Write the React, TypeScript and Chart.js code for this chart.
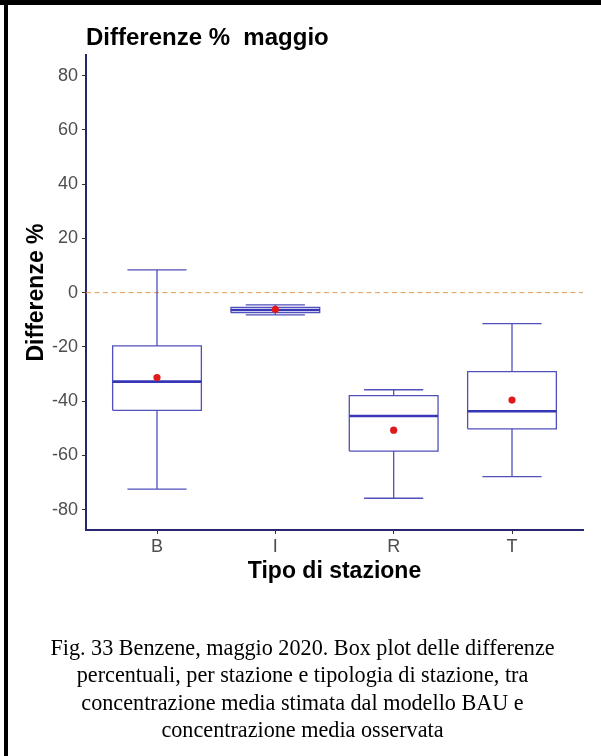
import React, { useEffect, useRef } from "react";
import { Chart, registerables } from "chart.js";

Chart.register(...registerables);

// ---- data ----
const categories = ["B", "I", "R", "T"];
const whiskerLow = [-72.4, -8.2, -75.8, -67.8];
const q1 = [-43.4, -7.4, -58.4, -50.2];
const median = [-32.8, -6.4, -45.5, -43.7];
const q3 = [-19.6, -5.4, -38.0, -29.1];
const whiskerHigh = [8.4, -4.5, -35.8, -11.4];
const means = [-31.3, -6.2, -50.7, -39.6];
const yTicks = [-80, -60, -40, -20, 0, 20, 40, 60, 80];
const refValue = 0;

const titleText = "Differenze %  maggio";
const yTitle = "Differenze %";
const xTitle = "Tipo di stazione";
const captionLines = [
  "Fig. 33 Benzene, maggio 2020. Box plot delle differenze",
  "percentuali, per stazione e tipologia di stazione, tra",
  "concentrazione media stimata dal modello BAU e",
  "concentrazione media osservata",
];

// ---- layout constants (not data) ----
const BOX_HALF = 0.375;
const CAP_HALF = 0.25;
const X_MIN = -0.6;
const X_MAX = categories.length - 1 + 0.6;
const Y_MIN = -87.5;
const Y_MAX = 87.6;

const BOX_COLOR = "#5050bc";
const MEDIAN_COLOR = "#3636b6";
const AXIS_COLOR = "#262673";
const SANS = '"Liberation Sans", Arial, Helvetica, sans-serif';

function gap(i: number) {
  return { x: i, y: null as any };
}

export default function App() {
  const ref = useRef<HTMLCanvasElement | null>(null);

  useEffect(() => {
    if (!ref.current) return;
    const whiskerPts: any[] = [];
    const capPts: any[] = [];
    const boxPts: any[] = [];
    const medPts: any[] = [];
    categories.forEach((_, i) => {
      whiskerPts.push({ x: i, y: whiskerLow[i] }, { x: i, y: q1[i] }, gap(i));
      whiskerPts.push({ x: i, y: q3[i] }, { x: i, y: whiskerHigh[i] }, gap(i));
      capPts.push({ x: i - CAP_HALF, y: whiskerLow[i] }, { x: i + CAP_HALF, y: whiskerLow[i] }, gap(i));
      capPts.push({ x: i - CAP_HALF, y: whiskerHigh[i] }, { x: i + CAP_HALF, y: whiskerHigh[i] }, gap(i));
      boxPts.push(
        { x: i - BOX_HALF, y: q1[i] },
        { x: i + BOX_HALF, y: q1[i] },
        { x: i + BOX_HALF, y: q3[i] },
        { x: i - BOX_HALF, y: q3[i] },
        { x: i - BOX_HALF, y: q1[i] },
        gap(i)
      );
      medPts.push({ x: i - BOX_HALF, y: median[i] }, { x: i + BOX_HALF, y: median[i] }, gap(i));
    });
    const meanPts = categories.map((_, i) => ({ x: i, y: means[i] }));

    const lineBase = {
      type: "line" as const,
      showLine: true,
      pointRadius: 0,
      pointHoverRadius: 0,
      spanGaps: false,
      fill: false,
      tension: 0,
    };

    const chart = new Chart(ref.current, {
      type: "scatter",
      data: {
        datasets: [
          {
            ...lineBase,
            data: meanPts,
            type: "scatter" as any,
            showLine: false,
            pointRadius: 3.6,
            pointBackgroundColor: "#e0191c",
            pointBorderWidth: 0,
            order: 1,
          } as any,
          { ...lineBase, data: medPts, borderColor: MEDIAN_COLOR, borderWidth: 2.6, order: 2 },
          { ...lineBase, data: boxPts, borderColor: BOX_COLOR, borderWidth: 1.3, borderJoinStyle: "miter", order: 3 },
          { ...lineBase, data: capPts, borderColor: BOX_COLOR, borderWidth: 1.3, order: 4 },
          { ...lineBase, data: whiskerPts, borderColor: BOX_COLOR, borderWidth: 1.3, order: 5 },
          {
            ...lineBase,
            data: [
              { x: X_MIN, y: refValue },
              { x: X_MAX, y: refValue },
            ],
            borderColor: "#e49a55",
            borderWidth: 1,
            borderDash: [5, 3.5],
            order: 6,
          },
        ] as any,
      },
      options: {
        animation: false,
        responsive: false,
        devicePixelRatio: 1,
        events: [],
        layout: { padding: { left: 0, top: 0, right: 18, bottom: 0 } },
        plugins: {
          legend: { display: false },
          tooltip: { enabled: false },
          title: {
            display: true,
            text: titleText,
            align: "start",
            fullSize: false,
            color: "#000",
            font: { family: SANS, size: 24, weight: "bold" },
            padding: { top: 24, bottom: 2.2 },
          },
        },
        scales: {
          x: {
            type: "linear",
            min: X_MIN,
            max: X_MAX,
            offset: false,
            afterBuildTicks: (scale: any) => {
              scale.ticks = categories.map((_, i) => ({ value: i }));
            },
            afterFit: (scale: any) => {
              scale.height = 70;
            },
            ticks: {
              callback: (v: any) => categories[Math.round(Number(v))] ?? "",
              color: "#4d4d4d",
              font: { family: SANS, size: 18 },
              padding: 2,
              maxRotation: 0,
              autoSkip: false,
            },
            grid: {
              drawOnChartArea: false,
              drawTicks: true,
              tickLength: 4,
              color: "#333333",
              lineWidth: 1,
            },
            border: { display: true, color: AXIS_COLOR, width: 2 },
            title: {
              display: true,
              text: xTitle,
              color: "#000",
              font: { family: SANS, size: 23, weight: "bold" },
              padding: { top: 0, bottom: 15 },
            },
          },
          y: {
            type: "linear",
            min: Y_MIN,
            max: Y_MAX,
            afterBuildTicks: (scale: any) => {
              scale.ticks = yTicks.map((v) => ({ value: v }));
            },
            afterFit: (scale: any) => {
              scale.width = 86;
            },
            ticks: {
              color: "#4d4d4d",
              font: { family: SANS, size: 18 },
              padding: 4,
            },
            grid: {
              drawOnChartArea: false,
              drawTicks: true,
              tickLength: 4,
              color: "#333333",
              lineWidth: 1,
            },
            border: { display: true, color: AXIS_COLOR, width: 2 },
            title: {
              display: true,
              text: yTitle,
              color: "#000",
              font: { family: SANS, size: 23, weight: "bold" },
              padding: { top: 22.5, bottom: 0 },
            },
          },
        },
      } as any,
    });
    return () => chart.destroy();
  }, []);

  return (
    <div
      style={{
        position: "absolute",
        left: 0,
        top: 0,
        width: 601,
        height: 756,
        background: "#fff",
        overflow: "hidden",
      }}
    >
      <canvas ref={ref} width={601} height={600} style={{ display: "block", position: "absolute", left: 0, top: 0 }} />
      <div style={{ position: "absolute", left: 0, top: 0, width: 601, height: 5, background: "#000" }} />
      <div style={{ position: "absolute", left: 4, top: 0, width: 3.5, height: 756, background: "#000" }} />
      <div
        style={{
          position: "absolute",
          left: 4,
          top: 634,
          width: 597,
          textAlign: "center",
          fontFamily: '"Liberation Serif", "Times New Roman", serif',
          fontSize: 22.2,
          lineHeight: "27.3px",
          color: "#000",
        }}
      >
        {captionLines.map((l, i) => (
          <div key={i}>{l}</div>
        ))}
      </div>
    </div>
  );
}
